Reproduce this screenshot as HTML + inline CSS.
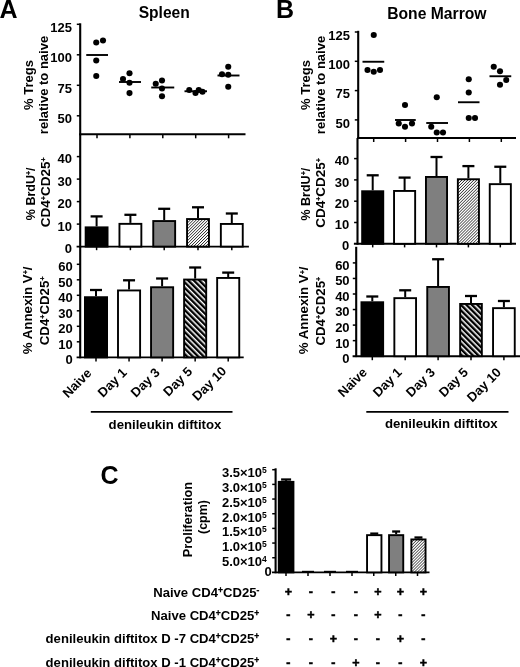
<!DOCTYPE html>
<html><head><meta charset="utf-8"><title>Figure</title>
<style>
html,body{margin:0;padding:0;background:#fff;}
svg{display:block;filter:blur(0.3px);}
text{font-family:"Liberation Sans", sans-serif;font-weight:bold;fill:#000;}
</style></head>
<body>
<svg width="520" height="667" viewBox="0 0 520 667">
<defs>
<pattern id="h1" width="2.1" height="2.1" patternUnits="userSpaceOnUse" patternTransform="rotate(45)">
<rect width="2.1" height="2.1" fill="#fff"/><rect width="0.72" height="2.1" fill="#2a2a2a"/></pattern>
<pattern id="h2" width="3.9" height="3.9" patternUnits="userSpaceOnUse" patternTransform="rotate(-45)">
<rect width="3.9" height="3.9" fill="#fff"/><rect width="2.4" height="3.9" fill="#000"/></pattern>
</defs>
<rect width="520" height="667" fill="#fff"/>
<text x="-0.5" y="18" font-size="25" text-anchor="start">A</text>
<text x="138.7" y="17.5" font-size="15.6" text-anchor="start">Spleen</text>
<line x1="80.2" y1="23.3" x2="80.2" y2="135.2" stroke="#000" stroke-width="2.1"/>
<line x1="80.2" y1="134.3" x2="80.2" y2="247.5" stroke="#000" stroke-width="2.1"/>
<line x1="80.2" y1="246.6" x2="80.2" y2="358.3" stroke="#000" stroke-width="2.1"/>
<line x1="76.8" y1="24.3" x2="80.2" y2="24.3" stroke="#000" stroke-width="1.5"/>
<text x="72" y="31.75" font-size="13" text-anchor="end">125</text>
<line x1="76.8" y1="54.8" x2="80.2" y2="54.8" stroke="#000" stroke-width="1.5"/>
<text x="72" y="62.25" font-size="13" text-anchor="end">100</text>
<line x1="76.8" y1="85.3" x2="80.2" y2="85.3" stroke="#000" stroke-width="1.5"/>
<text x="72" y="92.75" font-size="13" text-anchor="end">75</text>
<line x1="76.8" y1="115.8" x2="80.2" y2="115.8" stroke="#000" stroke-width="1.5"/>
<text x="72" y="123.25" font-size="13" text-anchor="end">50</text>
<line x1="79.2" y1="134.3" x2="245.5" y2="134.3" stroke="#000" stroke-width="1.9"/>
<line x1="76.6" y1="246.6" x2="248.9" y2="246.6" stroke="#000" stroke-width="1.9"/>
<line x1="76.6" y1="357.4" x2="243.7" y2="357.4" stroke="#000" stroke-width="1.9"/>
<line x1="97" y1="134.3" x2="97" y2="138.3" stroke="#000" stroke-width="1.5"/>
<line x1="129.9" y1="134.3" x2="129.9" y2="138.3" stroke="#000" stroke-width="1.5"/>
<line x1="162.8" y1="134.3" x2="162.8" y2="138.3" stroke="#000" stroke-width="1.5"/>
<line x1="195.7" y1="134.3" x2="195.7" y2="138.3" stroke="#000" stroke-width="1.5"/>
<line x1="228.6" y1="134.3" x2="228.6" y2="138.3" stroke="#000" stroke-width="1.5"/>
<line x1="96.6" y1="246.6" x2="96.6" y2="250.2" stroke="#000" stroke-width="1.5"/>
<line x1="130.4" y1="246.6" x2="130.4" y2="250.2" stroke="#000" stroke-width="1.5"/>
<line x1="164.2" y1="246.6" x2="164.2" y2="250.2" stroke="#000" stroke-width="1.5"/>
<line x1="198" y1="246.6" x2="198" y2="250.2" stroke="#000" stroke-width="1.5"/>
<line x1="231.8" y1="246.6" x2="231.8" y2="250.2" stroke="#000" stroke-width="1.5"/>
<line x1="96" y1="357.4" x2="96" y2="361.4" stroke="#000" stroke-width="1.5"/>
<line x1="129.05" y1="357.4" x2="129.05" y2="361.4" stroke="#000" stroke-width="1.5"/>
<line x1="162.1" y1="357.4" x2="162.1" y2="361.4" stroke="#000" stroke-width="1.5"/>
<line x1="195.15" y1="357.4" x2="195.15" y2="361.4" stroke="#000" stroke-width="1.5"/>
<line x1="228.2" y1="357.4" x2="228.2" y2="361.4" stroke="#000" stroke-width="1.5"/>
<line x1="76.8" y1="156.6" x2="80.2" y2="156.6" stroke="#000" stroke-width="1.5"/>
<text x="72" y="163.25" font-size="13" text-anchor="end">40</text>
<line x1="76.8" y1="179.1" x2="80.2" y2="179.1" stroke="#000" stroke-width="1.5"/>
<text x="72" y="185.75" font-size="13" text-anchor="end">30</text>
<line x1="76.8" y1="201.6" x2="80.2" y2="201.6" stroke="#000" stroke-width="1.5"/>
<text x="72" y="208.25" font-size="13" text-anchor="end">20</text>
<line x1="76.8" y1="224.1" x2="80.2" y2="224.1" stroke="#000" stroke-width="1.5"/>
<text x="72" y="230.75" font-size="13" text-anchor="end">10</text>
<text x="72" y="253.25" font-size="13" text-anchor="end">0</text>
<line x1="76.8" y1="264.3" x2="80.2" y2="264.3" stroke="#000" stroke-width="1.5"/>
<text x="72.8" y="271.15" font-size="13" text-anchor="end">60</text>
<line x1="76.8" y1="279.8" x2="80.2" y2="279.8" stroke="#000" stroke-width="1.5"/>
<text x="72.8" y="286.65" font-size="13" text-anchor="end">50</text>
<line x1="76.8" y1="295.3" x2="80.2" y2="295.3" stroke="#000" stroke-width="1.5"/>
<text x="72.8" y="302.15" font-size="13" text-anchor="end">40</text>
<line x1="76.8" y1="310.8" x2="80.2" y2="310.8" stroke="#000" stroke-width="1.5"/>
<text x="72.8" y="317.65" font-size="13" text-anchor="end">30</text>
<line x1="76.8" y1="326.3" x2="80.2" y2="326.3" stroke="#000" stroke-width="1.5"/>
<text x="72.8" y="333.15" font-size="13" text-anchor="end">20</text>
<line x1="76.8" y1="341.8" x2="80.2" y2="341.8" stroke="#000" stroke-width="1.5"/>
<text x="72.8" y="348.65" font-size="13" text-anchor="end">10</text>
<text x="72.8" y="364.25" font-size="13" text-anchor="end">0</text>
<circle cx="96.25" cy="42.5" r="3.05"/>
<circle cx="103" cy="40.5" r="3.05"/>
<circle cx="96.25" cy="60.5" r="3.05"/>
<circle cx="96.25" cy="76" r="3.05"/>
<circle cx="129.5" cy="73.3" r="3.05"/>
<circle cx="123" cy="79" r="3.05"/>
<circle cx="129.5" cy="82.8" r="3.05"/>
<circle cx="129.5" cy="93.1" r="3.05"/>
<circle cx="162" cy="80.5" r="3.05"/>
<circle cx="155.75" cy="83.75" r="3.05"/>
<circle cx="162" cy="88.5" r="3.05"/>
<circle cx="162" cy="96.25" r="3.05"/>
<circle cx="189.25" cy="90" r="3.05"/>
<circle cx="195.5" cy="93" r="3.05"/>
<circle cx="198.75" cy="90" r="3.05"/>
<circle cx="202.5" cy="91.75" r="3.05"/>
<circle cx="228.25" cy="66.75" r="3.05"/>
<circle cx="222" cy="74.25" r="3.05"/>
<circle cx="228.25" cy="74.75" r="3.05"/>
<circle cx="228.25" cy="86.75" r="3.05"/>
<line x1="86.25" y1="55" x2="108" y2="55" stroke="#000" stroke-width="1.9"/>
<line x1="119" y1="82" x2="141" y2="82" stroke="#000" stroke-width="1.9"/>
<line x1="151.25" y1="87.5" x2="174.25" y2="87.5" stroke="#000" stroke-width="1.9"/>
<line x1="184.5" y1="91.25" x2="207" y2="91.25" stroke="#000" stroke-width="1.9"/>
<line x1="217.5" y1="75.5" x2="239.5" y2="75.5" stroke="#000" stroke-width="1.9"/>
<line x1="96.6" y1="216.4" x2="96.6" y2="226.4" stroke="#000" stroke-width="2.0"/>
<line x1="90.6" y1="216.4" x2="102.6" y2="216.4" stroke="#000" stroke-width="2.3"/>
<rect x="85.65" y="227.35" width="21.9" height="19.25" fill="#000" stroke="#000" stroke-width="1.9"/>
<line x1="130.4" y1="214.8" x2="130.4" y2="222.9" stroke="#000" stroke-width="2.0"/>
<line x1="124.4" y1="214.8" x2="136.4" y2="214.8" stroke="#000" stroke-width="2.3"/>
<rect x="119.45" y="223.85" width="21.9" height="22.75" fill="#fff" stroke="#000" stroke-width="1.9"/>
<line x1="164.2" y1="208.8" x2="164.2" y2="220.1" stroke="#000" stroke-width="2.0"/>
<line x1="158.2" y1="208.8" x2="170.2" y2="208.8" stroke="#000" stroke-width="2.3"/>
<rect x="153.25" y="221.05" width="21.9" height="25.55" fill="#7f7f7f" stroke="#000" stroke-width="1.9"/>
<line x1="198" y1="207.3" x2="198" y2="218.1" stroke="#000" stroke-width="2.0"/>
<line x1="192" y1="207.3" x2="204" y2="207.3" stroke="#000" stroke-width="2.3"/>
<rect x="187.05" y="219.05" width="21.9" height="27.55" fill="url(#h1)" stroke="#000" stroke-width="1.9"/>
<line x1="231.8" y1="213.5" x2="231.8" y2="223" stroke="#000" stroke-width="2.0"/>
<line x1="225.8" y1="213.5" x2="237.8" y2="213.5" stroke="#000" stroke-width="2.3"/>
<rect x="220.85" y="223.95" width="21.9" height="22.65" fill="#fff" stroke="#000" stroke-width="1.9"/>
<line x1="96" y1="290" x2="96" y2="296.25" stroke="#000" stroke-width="2.0"/>
<line x1="90" y1="290" x2="102" y2="290" stroke="#000" stroke-width="2.3"/>
<rect x="84.95" y="297.2" width="22.1" height="60.2" fill="#000" stroke="#000" stroke-width="1.9"/>
<line x1="129.05" y1="280.3" x2="129.05" y2="289.5" stroke="#000" stroke-width="2.0"/>
<line x1="123.05" y1="280.3" x2="135.05" y2="280.3" stroke="#000" stroke-width="2.3"/>
<rect x="118" y="290.45" width="22.1" height="66.95" fill="#fff" stroke="#000" stroke-width="1.9"/>
<line x1="162.1" y1="278.5" x2="162.1" y2="286.3" stroke="#000" stroke-width="2.0"/>
<line x1="156.1" y1="278.5" x2="168.1" y2="278.5" stroke="#000" stroke-width="2.3"/>
<rect x="151.05" y="287.25" width="22.1" height="70.15" fill="#7f7f7f" stroke="#000" stroke-width="1.9"/>
<line x1="195.15" y1="267.5" x2="195.15" y2="278.6" stroke="#000" stroke-width="2.0"/>
<line x1="189.15" y1="267.5" x2="201.15" y2="267.5" stroke="#000" stroke-width="2.3"/>
<rect x="184.1" y="279.55" width="22.1" height="77.85" fill="url(#h2)" stroke="#000" stroke-width="1.9"/>
<line x1="228.2" y1="272.6" x2="228.2" y2="277" stroke="#000" stroke-width="2.0"/>
<line x1="222.2" y1="272.6" x2="234.2" y2="272.6" stroke="#000" stroke-width="2.3"/>
<rect x="217.15" y="277.95" width="22.1" height="79.45" fill="#fff" stroke="#000" stroke-width="1.9"/>
<text x="92.5" y="373.9" font-size="13" text-anchor="end" transform="rotate(-45 92.5 373.9)">Naive</text>
<text x="127.55" y="373.4" font-size="13" text-anchor="end" transform="rotate(-45 127.55 373.4)">Day 1</text>
<text x="160.6" y="373.4" font-size="13" text-anchor="end" transform="rotate(-45 160.6 373.4)">Day 3</text>
<text x="193.15" y="372.4" font-size="13" text-anchor="end" transform="rotate(-45 193.15 372.4)">Day 5</text>
<text x="227.2" y="371.9" font-size="13" text-anchor="end" transform="rotate(-45 227.2 371.9)">Day 10</text>
<line x1="90.8" y1="411.9" x2="232.5" y2="411.9" stroke="#000" stroke-width="1.9"/>
<text x="165" y="429.4" font-size="13.2" text-anchor="middle">denileukin diftitox</text>
<text x="32.8" y="85" font-size="13" text-anchor="middle" transform="rotate(-90 32.8 85)">% Tregs</text>
<text x="48.3" y="85" font-size="13" text-anchor="middle" transform="rotate(-90 48.3 85)">relative to naive</text>
<text x="34.6" y="193.8" font-size="12.5" text-anchor="middle" transform="rotate(-90 34.6 193.8)">% BrdU<tspan dy="-3.8" font-size="7" stroke="#000" stroke-width="0.3">+</tspan><tspan dy="3.8" font-size="0.1"> </tspan>/</text>
<text x="50.2" y="192.3" font-size="13.5" text-anchor="middle" transform="rotate(-90 50.2 192.3)">CD4<tspan dy="-3.8" font-size="7" stroke="#000" stroke-width="0.3">+</tspan><tspan dy="3.8" font-size="0.1"> </tspan>CD25<tspan dy="-3.8" font-size="7" stroke="#000" stroke-width="0.3">+</tspan><tspan dy="3.8" font-size="0.1"> </tspan></text>
<text x="31.9" y="310.4" font-size="13.3" text-anchor="middle" transform="rotate(-90 31.9 310.4)">% Annexin V<tspan dy="-3.8" font-size="7" stroke="#000" stroke-width="0.3">+</tspan><tspan dy="3.8" font-size="0.1"> </tspan>/</text>
<text x="49.2" y="310.9" font-size="13.3" text-anchor="middle" transform="rotate(-90 49.2 310.9)">CD4<tspan dy="-3.8" font-size="7" stroke="#000" stroke-width="0.3">+</tspan><tspan dy="3.8" font-size="0.1"> </tspan>CD25<tspan dy="-3.8" font-size="7" stroke="#000" stroke-width="0.3">+</tspan><tspan dy="3.8" font-size="0.1"> </tspan></text>
<text x="276" y="18" font-size="25" text-anchor="start">B</text>
<text x="387.2" y="18.7" font-size="15.7" text-anchor="start">Bone Marrow</text>
<line x1="358.2" y1="30.8" x2="358.2" y2="138.9" stroke="#000" stroke-width="2.1"/>
<line x1="357.5" y1="138" x2="357.5" y2="244.7" stroke="#000" stroke-width="2.1"/>
<line x1="356.2" y1="246.8" x2="356.2" y2="357.1" stroke="#000" stroke-width="2.1"/>
<line x1="354.8" y1="32" x2="358.2" y2="32" stroke="#000" stroke-width="1.5"/>
<text x="350" y="39.85" font-size="13" text-anchor="end">125</text>
<line x1="354.8" y1="61.3" x2="358.2" y2="61.3" stroke="#000" stroke-width="1.5"/>
<text x="350" y="69.15" font-size="13" text-anchor="end">100</text>
<line x1="354.8" y1="90.6" x2="358.2" y2="90.6" stroke="#000" stroke-width="1.5"/>
<text x="350" y="98.45" font-size="13" text-anchor="end">75</text>
<line x1="354.8" y1="119.9" x2="358.2" y2="119.9" stroke="#000" stroke-width="1.5"/>
<text x="350" y="127.75" font-size="13" text-anchor="end">50</text>
<line x1="357.2" y1="138" x2="516" y2="138" stroke="#000" stroke-width="1.9"/>
<line x1="353.9" y1="243.8" x2="516" y2="243.8" stroke="#000" stroke-width="1.9"/>
<line x1="352.6" y1="356.2" x2="520" y2="356.2" stroke="#000" stroke-width="1.9"/>
<line x1="373.7" y1="138" x2="373.7" y2="142" stroke="#000" stroke-width="1.5"/>
<line x1="405.6" y1="138" x2="405.6" y2="142" stroke="#000" stroke-width="1.5"/>
<line x1="437.5" y1="138" x2="437.5" y2="142" stroke="#000" stroke-width="1.5"/>
<line x1="469.4" y1="138" x2="469.4" y2="142" stroke="#000" stroke-width="1.5"/>
<line x1="501.3" y1="138" x2="501.3" y2="142" stroke="#000" stroke-width="1.5"/>
<line x1="372.7" y1="243.8" x2="372.7" y2="247.4" stroke="#000" stroke-width="1.5"/>
<line x1="404.6" y1="243.8" x2="404.6" y2="247.4" stroke="#000" stroke-width="1.5"/>
<line x1="436.5" y1="243.8" x2="436.5" y2="247.4" stroke="#000" stroke-width="1.5"/>
<line x1="468.4" y1="243.8" x2="468.4" y2="247.4" stroke="#000" stroke-width="1.5"/>
<line x1="500.3" y1="243.8" x2="500.3" y2="247.4" stroke="#000" stroke-width="1.5"/>
<line x1="372.3" y1="356.2" x2="372.3" y2="360.2" stroke="#000" stroke-width="1.5"/>
<line x1="405.2" y1="356.2" x2="405.2" y2="360.2" stroke="#000" stroke-width="1.5"/>
<line x1="438.1" y1="356.2" x2="438.1" y2="360.2" stroke="#000" stroke-width="1.5"/>
<line x1="471" y1="356.2" x2="471" y2="360.2" stroke="#000" stroke-width="1.5"/>
<line x1="503.9" y1="356.2" x2="503.9" y2="360.2" stroke="#000" stroke-width="1.5"/>
<line x1="354.1" y1="158.6" x2="357.5" y2="158.6" stroke="#000" stroke-width="1.5"/>
<text x="349.3" y="165.25" font-size="13" text-anchor="end">40</text>
<line x1="354.1" y1="179.9" x2="357.5" y2="179.9" stroke="#000" stroke-width="1.5"/>
<text x="349.3" y="186.55" font-size="13" text-anchor="end">30</text>
<line x1="354.1" y1="201.2" x2="357.5" y2="201.2" stroke="#000" stroke-width="1.5"/>
<text x="349.3" y="207.85" font-size="13" text-anchor="end">20</text>
<line x1="354.1" y1="222.5" x2="357.5" y2="222.5" stroke="#000" stroke-width="1.5"/>
<text x="349.3" y="229.15" font-size="13" text-anchor="end">10</text>
<text x="349.3" y="250.45" font-size="13" text-anchor="end">0</text>
<line x1="352.8" y1="262.9" x2="356.2" y2="262.9" stroke="#000" stroke-width="1.5"/>
<text x="349.6" y="269.75" font-size="13" text-anchor="end">60</text>
<line x1="352.8" y1="278.45" x2="356.2" y2="278.45" stroke="#000" stroke-width="1.5"/>
<text x="349.6" y="285.3" font-size="13" text-anchor="end">50</text>
<line x1="352.8" y1="294" x2="356.2" y2="294" stroke="#000" stroke-width="1.5"/>
<text x="349.6" y="300.85" font-size="13" text-anchor="end">40</text>
<line x1="352.8" y1="309.55" x2="356.2" y2="309.55" stroke="#000" stroke-width="1.5"/>
<text x="349.6" y="316.4" font-size="13" text-anchor="end">30</text>
<line x1="352.8" y1="325.1" x2="356.2" y2="325.1" stroke="#000" stroke-width="1.5"/>
<text x="349.6" y="331.95" font-size="13" text-anchor="end">20</text>
<line x1="352.8" y1="340.65" x2="356.2" y2="340.65" stroke="#000" stroke-width="1.5"/>
<text x="349.6" y="347.5" font-size="13" text-anchor="end">10</text>
<text x="349.6" y="363.05" font-size="13" text-anchor="end">0</text>
<circle cx="373.75" cy="35" r="3.05"/>
<circle cx="367.5" cy="70" r="3.05"/>
<circle cx="373.75" cy="71.75" r="3.05"/>
<circle cx="380" cy="70" r="3.05"/>
<circle cx="405" cy="105" r="3.05"/>
<circle cx="398.75" cy="123.5" r="3.05"/>
<circle cx="405" cy="126.75" r="3.05"/>
<circle cx="412" cy="123.5" r="3.05"/>
<circle cx="436.75" cy="97.25" r="3.05"/>
<circle cx="431.25" cy="126.75" r="3.05"/>
<circle cx="436.75" cy="132.5" r="3.05"/>
<circle cx="443" cy="132.5" r="3.05"/>
<circle cx="468.75" cy="79.25" r="3.05"/>
<circle cx="468.75" cy="92.5" r="3.05"/>
<circle cx="468.75" cy="118" r="3.05"/>
<circle cx="475" cy="118" r="3.05"/>
<circle cx="493.75" cy="66.75" r="3.05"/>
<circle cx="500" cy="71.25" r="3.05"/>
<circle cx="506.25" cy="80" r="3.05"/>
<circle cx="500" cy="84.75" r="3.05"/>
<line x1="362.5" y1="61.75" x2="384.25" y2="61.75" stroke="#000" stroke-width="1.9"/>
<line x1="395" y1="120" x2="415.75" y2="120" stroke="#000" stroke-width="1.9"/>
<line x1="426.25" y1="123" x2="448" y2="123" stroke="#000" stroke-width="1.9"/>
<line x1="458" y1="102.25" x2="479.5" y2="102.25" stroke="#000" stroke-width="1.9"/>
<line x1="489.5" y1="76.25" x2="511.25" y2="76.25" stroke="#000" stroke-width="1.9"/>
<line x1="372.7" y1="175.3" x2="372.7" y2="190.3" stroke="#000" stroke-width="2.0"/>
<line x1="366.7" y1="175.3" x2="378.7" y2="175.3" stroke="#000" stroke-width="2.3"/>
<rect x="362.15" y="191.25" width="21.1" height="52.55" fill="#000" stroke="#000" stroke-width="1.9"/>
<line x1="404.6" y1="177.6" x2="404.6" y2="190" stroke="#000" stroke-width="2.0"/>
<line x1="398.6" y1="177.6" x2="410.6" y2="177.6" stroke="#000" stroke-width="2.3"/>
<rect x="394.05" y="190.95" width="21.1" height="52.85" fill="#fff" stroke="#000" stroke-width="1.9"/>
<line x1="436.5" y1="157" x2="436.5" y2="176" stroke="#000" stroke-width="2.0"/>
<line x1="430.5" y1="157" x2="442.5" y2="157" stroke="#000" stroke-width="2.3"/>
<rect x="425.95" y="176.95" width="21.1" height="66.85" fill="#7f7f7f" stroke="#000" stroke-width="1.9"/>
<line x1="468.4" y1="166.1" x2="468.4" y2="178.3" stroke="#000" stroke-width="2.0"/>
<line x1="462.4" y1="166.1" x2="474.4" y2="166.1" stroke="#000" stroke-width="2.3"/>
<rect x="457.85" y="179.25" width="21.1" height="64.55" fill="url(#h1)" stroke="#000" stroke-width="1.9"/>
<line x1="500.3" y1="166.75" x2="500.3" y2="183.2" stroke="#000" stroke-width="2.0"/>
<line x1="494.3" y1="166.75" x2="506.3" y2="166.75" stroke="#000" stroke-width="2.3"/>
<rect x="489.75" y="184.15" width="21.1" height="59.65" fill="#fff" stroke="#000" stroke-width="1.9"/>
<line x1="372.3" y1="296.5" x2="372.3" y2="301.3" stroke="#000" stroke-width="2.0"/>
<line x1="366.3" y1="296.5" x2="378.3" y2="296.5" stroke="#000" stroke-width="2.3"/>
<rect x="361.45" y="302.25" width="21.7" height="53.95" fill="#000" stroke="#000" stroke-width="1.9"/>
<line x1="405.2" y1="290.3" x2="405.2" y2="297.2" stroke="#000" stroke-width="2.0"/>
<line x1="399.2" y1="290.3" x2="411.2" y2="290.3" stroke="#000" stroke-width="2.3"/>
<rect x="394.35" y="298.15" width="21.7" height="58.05" fill="#fff" stroke="#000" stroke-width="1.9"/>
<line x1="438.1" y1="259.25" x2="438.1" y2="286" stroke="#000" stroke-width="2.0"/>
<line x1="432.1" y1="259.25" x2="444.1" y2="259.25" stroke="#000" stroke-width="2.3"/>
<rect x="427.25" y="286.95" width="21.7" height="69.25" fill="#7f7f7f" stroke="#000" stroke-width="1.9"/>
<line x1="471" y1="296" x2="471" y2="303" stroke="#000" stroke-width="2.0"/>
<line x1="465" y1="296" x2="477" y2="296" stroke="#000" stroke-width="2.3"/>
<rect x="460.15" y="303.95" width="21.7" height="52.25" fill="url(#h2)" stroke="#000" stroke-width="1.9"/>
<line x1="503.9" y1="301" x2="503.9" y2="307.2" stroke="#000" stroke-width="2.0"/>
<line x1="497.9" y1="301" x2="509.9" y2="301" stroke="#000" stroke-width="2.3"/>
<rect x="493.05" y="308.15" width="21.7" height="48.05" fill="#fff" stroke="#000" stroke-width="1.9"/>
<text x="367.8" y="373.2" font-size="13" text-anchor="end" transform="rotate(-45 367.8 373.2)">Naive</text>
<text x="402.7" y="373.2" font-size="13" text-anchor="end" transform="rotate(-45 402.7 373.2)">Day 1</text>
<text x="435.8" y="373.2" font-size="13" text-anchor="end" transform="rotate(-45 435.8 373.2)">Day 3</text>
<text x="468.8" y="373.2" font-size="13" text-anchor="end" transform="rotate(-45 468.8 373.2)">Day 5</text>
<text x="501.9" y="373.2" font-size="13" text-anchor="end" transform="rotate(-45 501.9 373.2)">Day 10</text>
<line x1="366.3" y1="411.9" x2="508.5" y2="411.9" stroke="#000" stroke-width="1.9"/>
<text x="441.3" y="428.4" font-size="13.2" text-anchor="middle">denileukin diftitox</text>
<text x="309.6" y="85" font-size="13" text-anchor="middle" transform="rotate(-90 309.6 85)">% Tregs</text>
<text x="324.8" y="85" font-size="13" text-anchor="middle" transform="rotate(-90 324.8 85)">relative to naive</text>
<text x="309.6" y="194.1" font-size="12.5" text-anchor="middle" transform="rotate(-90 309.6 194.1)">% BrdU<tspan dy="-3.8" font-size="7" stroke="#000" stroke-width="0.3">+</tspan><tspan dy="3.8" font-size="0.1"> </tspan>/</text>
<text x="325.2" y="192.9" font-size="13.5" text-anchor="middle" transform="rotate(-90 325.2 192.9)">CD4<tspan dy="-3.8" font-size="7" stroke="#000" stroke-width="0.3">+</tspan><tspan dy="3.8" font-size="0.1"> </tspan>CD25<tspan dy="-3.8" font-size="7" stroke="#000" stroke-width="0.3">+</tspan><tspan dy="3.8" font-size="0.1"> </tspan></text>
<text x="308.5" y="310.4" font-size="13.3" text-anchor="middle" transform="rotate(-90 308.5 310.4)">% Annexin V<tspan dy="-3.8" font-size="7" stroke="#000" stroke-width="0.3">+</tspan><tspan dy="3.8" font-size="0.1"> </tspan>/</text>
<text x="325" y="311.2" font-size="13.3" text-anchor="middle" transform="rotate(-90 325 311.2)">CD4<tspan dy="-3.8" font-size="7" stroke="#000" stroke-width="0.3">+</tspan><tspan dy="3.8" font-size="0.1"> </tspan>CD25<tspan dy="-3.8" font-size="7" stroke="#000" stroke-width="0.3">+</tspan><tspan dy="3.8" font-size="0.1"> </tspan></text>
<text x="100.5" y="483.5" font-size="25" text-anchor="start">C</text>
<line x1="275.6" y1="468.3" x2="275.6" y2="573.3" stroke="#000" stroke-width="2.1"/>
<line x1="272" y1="572.4" x2="429.5" y2="572.4" stroke="#000" stroke-width="1.9"/>
<line x1="272.2" y1="469.71" x2="275.6" y2="469.71" stroke="#000" stroke-width="1.5"/>
<text x="266.8" y="477.1" font-size="13" text-anchor="end">3.5×10<tspan dy="-4.0" font-size="8.5">5</tspan></text>
<line x1="272.2" y1="484.38" x2="275.6" y2="484.38" stroke="#000" stroke-width="1.5"/>
<text x="266.8" y="491.9" font-size="13" text-anchor="end">3.0×10<tspan dy="-4.0" font-size="8.5">5</tspan></text>
<line x1="272.2" y1="499.05" x2="275.6" y2="499.05" stroke="#000" stroke-width="1.5"/>
<text x="266.8" y="506.7" font-size="13" text-anchor="end">2.5×10<tspan dy="-4.0" font-size="8.5">5</tspan></text>
<line x1="272.2" y1="513.72" x2="275.6" y2="513.72" stroke="#000" stroke-width="1.5"/>
<text x="266.8" y="521.5" font-size="13" text-anchor="end">2.0×10<tspan dy="-4.0" font-size="8.5">5</tspan></text>
<line x1="272.2" y1="528.39" x2="275.6" y2="528.39" stroke="#000" stroke-width="1.5"/>
<text x="266.8" y="536.3" font-size="13" text-anchor="end">1.5×10<tspan dy="-4.0" font-size="8.5">5</tspan></text>
<line x1="272.2" y1="543.06" x2="275.6" y2="543.06" stroke="#000" stroke-width="1.5"/>
<text x="266.8" y="551.1" font-size="13" text-anchor="end">1.0×10<tspan dy="-4.0" font-size="8.5">5</tspan></text>
<line x1="272.2" y1="557.73" x2="275.6" y2="557.73" stroke="#000" stroke-width="1.5"/>
<text x="266.8" y="565.9" font-size="13" text-anchor="end">5.0×10<tspan dy="-4.0" font-size="8.5">4</tspan></text>
<text x="271.7" y="575.55" font-size="13" text-anchor="end">0</text>
<line x1="286" y1="572.4" x2="286" y2="576" stroke="#000" stroke-width="1.5"/>
<line x1="308" y1="572.4" x2="308" y2="576" stroke="#000" stroke-width="1.5"/>
<line x1="330" y1="572.4" x2="330" y2="576" stroke="#000" stroke-width="1.5"/>
<line x1="352" y1="572.4" x2="352" y2="576" stroke="#000" stroke-width="1.5"/>
<line x1="373.75" y1="572.4" x2="373.75" y2="576" stroke="#000" stroke-width="1.5"/>
<line x1="395.75" y1="572.4" x2="395.75" y2="576" stroke="#000" stroke-width="1.5"/>
<line x1="417.5" y1="572.4" x2="417.5" y2="576" stroke="#000" stroke-width="1.5"/>
<line x1="286.1" y1="479.5" x2="286.1" y2="480.9" stroke="#000" stroke-width="2.0"/>
<line x1="281.1" y1="479.5" x2="291.1" y2="479.5" stroke="#000" stroke-width="2.3"/>
<rect x="278.75" y="481.85" width="14.7" height="90.55" fill="#000" stroke="#000" stroke-width="1.9"/>
<line x1="374.25" y1="533.6" x2="374.25" y2="534.2" stroke="#000" stroke-width="2.0"/>
<line x1="370.25" y1="533.6" x2="378.25" y2="533.6" stroke="#000" stroke-width="2.3"/>
<rect x="367.05" y="535.15" width="14.4" height="37.25" fill="#fff" stroke="#000" stroke-width="1.9"/>
<line x1="396.15" y1="531.5" x2="396.15" y2="534.2" stroke="#000" stroke-width="2.0"/>
<line x1="392.15" y1="531.5" x2="400.15" y2="531.5" stroke="#000" stroke-width="2.3"/>
<rect x="389.05" y="535.15" width="14.2" height="37.25" fill="#7f7f7f" stroke="#000" stroke-width="1.9"/>
<line x1="418.45" y1="537.5" x2="418.45" y2="538.5" stroke="#000" stroke-width="2.0"/>
<line x1="414.45" y1="537.5" x2="422.45" y2="537.5" stroke="#000" stroke-width="2.3"/>
<rect x="411.35" y="539.45" width="14.2" height="32.95" fill="url(#h1)" stroke="#000" stroke-width="1.9"/>
<line x1="302" y1="571.4" x2="314" y2="571.4" stroke="#000" stroke-width="1.2"/>
<line x1="324" y1="571.4" x2="336" y2="571.4" stroke="#000" stroke-width="1.2"/>
<line x1="346" y1="571.4" x2="358" y2="571.4" stroke="#000" stroke-width="1.2"/>
<text x="191.7" y="519.5" font-size="12.8" text-anchor="middle" transform="rotate(-90 191.7 519.5)">Proliferation</text>
<text x="207" y="517" font-size="12.5" text-anchor="middle" transform="rotate(-90 207 517)">(cpm)</text>
<text x="259.3" y="597.1" font-size="13.1" text-anchor="end">Naive CD4<tspan dy="-4.0" font-size="8.5" stroke="#000" stroke-width="0.3">+</tspan><tspan dy="4.0" font-size="0.1"> </tspan>CD25<tspan dy="-4.0" font-size="8.5" stroke="#000" stroke-width="0.3">-</tspan><tspan dy="4.0" font-size="0.1"> </tspan></text>
<text x="259.3" y="619.6" font-size="13.1" text-anchor="end">Naive CD4<tspan dy="-4.0" font-size="8.5" stroke="#000" stroke-width="0.3">+</tspan><tspan dy="4.0" font-size="0.1"> </tspan>CD25<tspan dy="-4.0" font-size="8.5" stroke="#000" stroke-width="0.3">+</tspan><tspan dy="4.0" font-size="0.1"> </tspan></text>
<text x="259.3" y="642.8" font-size="13.1" text-anchor="end">denileukin diftitox D -7 CD4<tspan dy="-4.0" font-size="8.5" stroke="#000" stroke-width="0.3">+</tspan><tspan dy="4.0" font-size="0.1"> </tspan>CD25<tspan dy="-4.0" font-size="8.5" stroke="#000" stroke-width="0.3">+</tspan><tspan dy="4.0" font-size="0.1"> </tspan></text>
<text x="259.3" y="667.3" font-size="13.1" text-anchor="end">denileukin diftitox D -1 CD4<tspan dy="-4.0" font-size="8.5" stroke="#000" stroke-width="0.3">+</tspan><tspan dy="4.0" font-size="0.1"> </tspan>CD25<tspan dy="-4.0" font-size="8.5" stroke="#000" stroke-width="0.3">+</tspan><tspan dy="4.0" font-size="0.1"> </tspan></text>
<text x="288.3" y="595.5" font-size="12.5" text-anchor="middle" stroke="#000" stroke-width="0.5">+</text>
<text x="310.8" y="595.5" font-size="12.5" text-anchor="middle" stroke="#000" stroke-width="0.5">-</text>
<text x="333.3" y="595.5" font-size="12.5" text-anchor="middle" stroke="#000" stroke-width="0.5">-</text>
<text x="355.8" y="595.5" font-size="12.5" text-anchor="middle" stroke="#000" stroke-width="0.5">-</text>
<text x="377.8" y="595.5" font-size="12.5" text-anchor="middle" stroke="#000" stroke-width="0.5">+</text>
<text x="400.3" y="595.5" font-size="12.5" text-anchor="middle" stroke="#000" stroke-width="0.5">+</text>
<text x="423.3" y="595.5" font-size="12.5" text-anchor="middle" stroke="#000" stroke-width="0.5">+</text>
<text x="288.3" y="619.3" font-size="12.5" text-anchor="middle" stroke="#000" stroke-width="0.5">-</text>
<text x="310.8" y="619.3" font-size="12.5" text-anchor="middle" stroke="#000" stroke-width="0.5">+</text>
<text x="333.3" y="619.3" font-size="12.5" text-anchor="middle" stroke="#000" stroke-width="0.5">-</text>
<text x="355.8" y="619.3" font-size="12.5" text-anchor="middle" stroke="#000" stroke-width="0.5">-</text>
<text x="377.8" y="619.3" font-size="12.5" text-anchor="middle" stroke="#000" stroke-width="0.5">+</text>
<text x="400.3" y="619.3" font-size="12.5" text-anchor="middle" stroke="#000" stroke-width="0.5">-</text>
<text x="423.3" y="619.3" font-size="12.5" text-anchor="middle" stroke="#000" stroke-width="0.5">-</text>
<text x="288.3" y="642.6" font-size="12.5" text-anchor="middle" stroke="#000" stroke-width="0.5">-</text>
<text x="310.8" y="642.6" font-size="12.5" text-anchor="middle" stroke="#000" stroke-width="0.5">-</text>
<text x="333.3" y="642.6" font-size="12.5" text-anchor="middle" stroke="#000" stroke-width="0.5">+</text>
<text x="355.8" y="642.6" font-size="12.5" text-anchor="middle" stroke="#000" stroke-width="0.5">-</text>
<text x="377.8" y="642.6" font-size="12.5" text-anchor="middle" stroke="#000" stroke-width="0.5">-</text>
<text x="400.3" y="642.6" font-size="12.5" text-anchor="middle" stroke="#000" stroke-width="0.5">+</text>
<text x="423.3" y="642.6" font-size="12.5" text-anchor="middle" stroke="#000" stroke-width="0.5">-</text>
<text x="288.3" y="667" font-size="12.5" text-anchor="middle" stroke="#000" stroke-width="0.5">-</text>
<text x="310.8" y="667" font-size="12.5" text-anchor="middle" stroke="#000" stroke-width="0.5">-</text>
<text x="333.3" y="667" font-size="12.5" text-anchor="middle" stroke="#000" stroke-width="0.5">-</text>
<text x="355.8" y="667" font-size="12.5" text-anchor="middle" stroke="#000" stroke-width="0.5">+</text>
<text x="377.8" y="667" font-size="12.5" text-anchor="middle" stroke="#000" stroke-width="0.5">-</text>
<text x="400.3" y="667" font-size="12.5" text-anchor="middle" stroke="#000" stroke-width="0.5">-</text>
<text x="423.3" y="667" font-size="12.5" text-anchor="middle" stroke="#000" stroke-width="0.5">+</text>
</svg>
</body></html>
